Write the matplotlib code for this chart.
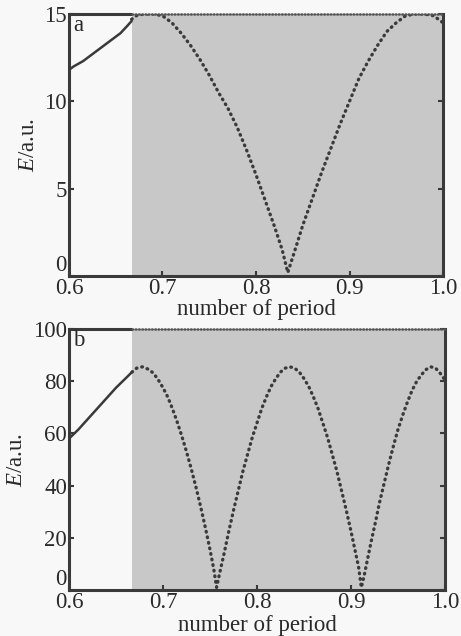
import matplotlib
matplotlib.use("Agg")
import matplotlib.pyplot as plt

# ---------------- data ----------------
x_ticks = [0.6, 0.7, 0.8, 0.9, 1.0]
x_tick_labels = ["0.6", "0.7", "0.8", "0.9", "1.0"]
shade_start = 0.667

# panel a
a_yticks = [0, 5, 10, 15]
a_ymax = 15
a_solid_x = [0.600, 0.605, 0.615, 0.625, 0.635, 0.645, 0.655, 0.662, 0.667]
a_solid_y = [11.8, 12.0, 12.3, 12.7, 13.1, 13.5, 13.9, 14.3, 14.6]
a_dot_x = [0.667, 0.672, 0.680, 0.690, 0.700, 0.710, 0.720, 0.730, 0.740, 0.750,
           0.760, 0.770, 0.780, 0.790, 0.800, 0.810, 0.820, 0.828, 0.834, 0.840,
           0.850, 0.860, 0.870, 0.880, 0.890, 0.900, 0.910, 0.920, 0.930, 0.940,
           0.950, 0.960, 0.970, 0.980, 0.990, 1.000]
a_dot_y = [14.7, 14.9, 15.0, 15.0, 14.9, 14.5, 13.9, 13.2, 12.4, 11.5,
           10.5, 9.6, 8.5, 7.2, 5.8, 4.3, 2.8, 1.5, 0.2, 1.2,
           2.9, 4.4, 5.9, 7.3, 8.7, 10.0, 11.3, 12.3, 13.2, 14.0,
           14.5, 14.9, 15.0, 15.0, 14.9, 14.5]

# panel b
b_yticks = [0, 20, 40, 60, 80, 100]
b_ymax = 100
b_solid_x = [0.600, 0.610, 0.620, 0.630, 0.640, 0.650, 0.660, 0.667]
b_solid_y = [58.0, 61.5, 65.5, 69.5, 73.5, 77.5, 81.0, 83.5]
b_dot_x = [0.667, 0.672, 0.678, 0.685, 0.690, 0.695, 0.700, 0.705, 0.710, 0.715,
           0.720, 0.725, 0.730, 0.735, 0.740, 0.745, 0.750, 0.754, 0.757, 0.760,
           0.765, 0.770, 0.775, 0.780, 0.785, 0.790, 0.795, 0.800, 0.805, 0.810,
           0.815, 0.820, 0.825, 0.830, 0.835, 0.840, 0.845, 0.850, 0.855, 0.860,
           0.865, 0.870, 0.875, 0.880, 0.885, 0.890, 0.895, 0.900, 0.905, 0.908,
           0.911, 0.914, 0.918, 0.922, 0.926, 0.930, 0.935, 0.940, 0.945, 0.950,
           0.955, 0.960, 0.965, 0.970, 0.975, 0.980, 0.985, 0.990, 0.995, 1.000]
b_dot_y = [83.5, 85.0, 85.5, 84.5, 83.0, 80.5, 77.5, 74.0, 69.5, 64.5,
           59.0, 53.0, 46.5, 39.5, 32.0, 24.0, 15.5, 8.0, 1.0, 6.0,
           14.0, 22.5, 30.5, 38.0, 45.5, 52.0, 58.5, 64.0, 69.5, 74.0,
           78.0, 81.0, 83.5, 85.0, 85.5, 85.0, 83.5, 81.0, 78.0, 74.0,
           69.5, 64.0, 58.5, 52.0, 45.5, 38.0, 30.5, 22.5, 14.0, 9.0,
           1.0, 5.5, 12.5, 19.5, 26.0, 33.0, 40.5, 48.0, 55.0, 61.5,
           67.0, 72.0, 76.5, 80.0, 82.5, 84.5, 85.5, 85.0, 83.0, 80.5]

panel_labels = ["a", "b"]
xlabel = "number of period"
ylabel = r"$E$/a.u."

# ---------------- style ----------------
plt.rcParams["font.family"] = ["Liberation Serif", "DejaVu Serif"]
plt.rcParams["mathtext.fontset"] = "custom"
plt.rcParams["mathtext.rm"] = "Liberation Serif"
plt.rcParams["mathtext.it"] = "Liberation Serif:italic"

ink = "#3a3a3a"
shade = "#c8c8c8"
bg = "#f8f8f8"
fs = 16.5

W, H = 461, 636
fig = plt.figure(figsize=(W / 100, H / 100), dpi=100, facecolor=bg)

ax_a = fig.add_axes([69 / W, 1 - 276 / H, (443 - 69) / W, (276 - 14) / H])
ax_b = fig.add_axes([69 / W, 1 - 590 / H, (445 - 69) / W, (590 - 329) / H])


def draw(ax, solid_x, solid_y, dot_x, dot_y, ymax, yticks, label, xpad):
    ax.set_facecolor(bg)
    ax.axvspan(shade_start, 1.0, color=shade, lw=0, zorder=0)
    ax.plot(solid_x, solid_y, color=ink, lw=1.8, solid_capstyle="round", zorder=3)
    ax.plot(dot_x, dot_y, color=ink, lw=2.4, linestyle=(0, (0.2, 1.5)),
            dash_capstyle="round", zorder=3)
    # top border: solid over white part, dotted over shaded part
    ax.plot([0.6, shade_start], [ymax, ymax], color=ink, lw=2.2,
            clip_on=False, zorder=4, solid_capstyle="butt")
    ax.plot([shade_start, 1.0], [ymax, ymax], color="#555555", lw=1.8,
            linestyle=(0, (0.3, 1.0)), dash_capstyle="round",
            clip_on=False, zorder=4)
    ax.set_xlim(0.6, 1.0)
    ax.set_ylim(0, ymax)
    ax.set_xticks(x_ticks)
    ax.set_xticklabels(x_tick_labels)
    ax.set_yticks(yticks)
    ax.set_yticklabels([str(v) for v in yticks])
    for s in ["left", "right", "bottom"]:
        ax.spines[s].set_linewidth(2.2)
        ax.spines[s].set_color(ink)
    ax.spines["top"].set_visible(False)
    ax.tick_params(direction="in", length=3.5, width=1.5, color=ink,
                   labelsize=fs, labelcolor="#2a2a2a", pad=1.5, right=True)
    # the "0" label sits just above the corner, clear of the "0.6" label
    ax.get_yticklabels()[0].set_verticalalignment("bottom")
    ax.set_xlabel(xlabel, fontsize=fs, color="#2a2a2a", labelpad=xpad)
    ax.set_ylabel(ylabel, fontsize=fs, color="#2a2a2a", labelpad=4)
    ax.text(0.012, 0.955, label, transform=ax.transAxes, fontsize=fs,
            color="#2a2a2a", ha="left", va="center", zorder=5)


draw(ax_a, a_solid_x, a_solid_y, a_dot_x, a_dot_y, a_ymax, a_yticks,
     panel_labels[0], 0)
draw(ax_b, b_solid_x, b_solid_y, b_dot_x, b_dot_y, b_ymax, b_yticks,
     panel_labels[1], 1.5)

fig.savefig("out.png", dpi=100, facecolor=bg)
